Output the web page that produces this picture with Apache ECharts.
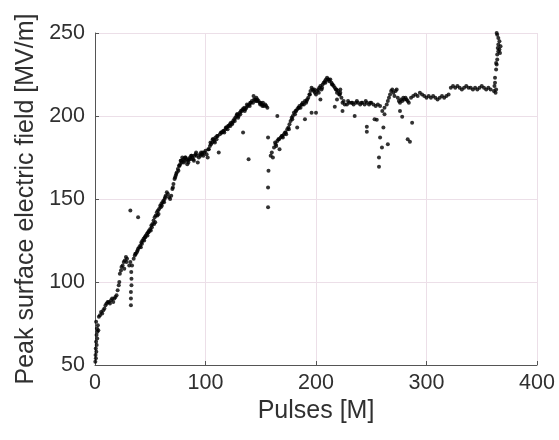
<!DOCTYPE html>
<html>
<head>
<meta charset="utf-8">
<script src="https://cdn.jsdelivr.net/npm/echarts@6/dist/echarts.min.js"></script>
<style>html,body{margin:0;padding:0;background:#fff;}#c{width:559px;height:440px;}</style>
</head>
<body>
<div id="c"></div>
<script>
// Pulses [M]
var pulses = [
0.3,0.8,0.5,1.2,0.7,1.5,1,2,1.4,2.2,1.8,2.6,1,3,
3.5,4.5,5.5,6.5,7.5,8.5,
9.5,10.5,11.5,12.5,13.5,14.5,15.5,16.5,17.5,18.5,19.5,
20.5,21.5,22,22.5,23.5,24,25,26,27,28,29,26.5,28.5,
31,32,32.5,32.5,32.5,33,33,32.8,33.5,
32,39,
35,36,37,38,39,40,41,42,43,44,45,46,47,48,49,50,51,52,53,54,55,56,57,58,59,60,61,62,63,64,65,66,67,68,69,70,
71,72,73,74,75,76,77,78,79,80,81,82,83,84,85,86,87,88,89,90,91,92,93,94,95,96,97,98,99,100,
101,102,103,104,105,106,107,108,109,110,111,112,113,114,115,116,117,118,119,120,121,122,123,124,125,126,127,128,129,130,
131,132,133,134,134.5,135,136,137,138,139,139.5,140,141,142,143,144,145,146,147,148,149,150,151,152,153,154,155,156,
41.5,44.5,47.5,50.5,53.5,56.5,59.5,62.5,72.5,75.5,77.5,80.5,83.5,86.5,89.5,95.5,104.5,108.5,114.5,118.5,122.5,126.5,129.5,133.5,137.5,143.5,146.5,151.5,
36.5,38.5,42.5,45.5,48.5,51.5,54.5,57.5,60.5,63.5,70.5,73.5,76.5,78.5,81.5,84.5,87.5,91.5,97.5,102.5,106.5,110.5,116.5,120.5,124.5,128.5,131.5,135.5,140.5,145.5,149.5,
156.6,157,156.6,156.6,165,
159,160,161,162,163,164,165,166,167,168,169,170,171,172,173,174,175,176,177,178,179,180,181,182,183,184,185,186,187,188,189,190,
191,192,193,194,195,196,197,198,199,200,201,202,203,204,205,206,207,208,209,210,211,212,213,214,215,216,217,218,219,220,221,222,223,224,225,226,
163.5,166.5,169.5,172.5,175.5,178.5,181.5,184.5,187.5,191.5,194.5,198.5,202.5,205.5,208.5,211.5,214.5,218.5,221.5,
183,190,196,200,204,217,224,222,219,
228,230,232,234,236,238,240,242,244,246,248,250,252,254,256,258,
229,233,237,241,245,249,
235,246,246,253,255,258,259.7,257,257,265,261,262,283,285,287,278,276,
260,262,264,265,266,267,268,269,270,271,272,273,274,275,276,277,278,279,280,281,282,283,284,286,288,290,292,294,296,298,
300,302,304,306,308,310,312,314,316,318,320,
322,324,326,328,330,332,334,336,338,340,342,344,346,348,350,352,354,356,358,
361,361.5,362,362,363,362.5,
363,363.5,364,364,365,364.5,365,366,365,364,363.5,363,366,367,366.5
];
// Peak surface electric field [MV/m]
var field = [
52,54,56,58,60,62,64,66,68,70,72,74,76,71,
79,80,82,81,83,84,
86,87,88,88,87,89,90,88,90,91,92,
95,98,100,105,107,109,110,112,113,115,114,108,112,
110,112,86,90,94,98,102,106,110,
143,139,
114,116,117,118,120,121,122,124,125,126,127,128,129,130,131,132,134,135,137,139,140,142,143,144,146,147,148,149,150,152,154,153,151,150,152,156,
159,162,164,166,168,170,171,173,175,174,173,175,174,173,174,175,176,175,174,176,177,176,172,175,177,178,177,176,178,179,
177,175,180,182,183,184,186,185,187,186,188,178,189,190,190,191,190,192,193,192,194,195,196,195,197,198,199,200,201,200,
202,203,203,190,204,205,204,205,206,174,207,206,208,209,208,210,210,211,210,209,208,208,207,208,206,207,206,205,
121,125,128,131,135,140,145,148,163,167,173,172,171,174,173,176,184,184,190,193,194,197,199,204,207,212,209,206,
117,119,123,127,130,133,136,141,146,151,157,165,170,172,175,172,176,178,178,180,186,188,191,194,196,201,201,203,208,209,207,
187,167,157,145,200,
176,178,175,181,184,182,185,186,180,187,188,187,189,190,189,192,193,195,197,199,200,202,201,203,204,205,206,205,207,208,207,209,
208,210,211,213,215,217,216,215,214,213,215,216,217,218,216,219,220,221,222,223,222,221,222,220,219,218,217,216,214,215,213,214,211,208,209,207,
183,186,188,190,192,198,203,205,207,209,213,216,214,217,220,222,219,216,213,
193,198,202,202,210,205.6,203,216,210,
207,208,208,207,208,208,207,208,207,208,207,208,207,206,207,206,
209,208,209,208,209,208,
200,193.5,190.5,198,197.7,187,181,175,169.5,183,193,201,186,184.5,196,199.5,203,
203,205,207,209,211,213,215,216,214,212,215,216,211,209,208,210,209,211,210,211,210,209,208,211,212,213,212,214,213,212,
211,212,211,212,211,210,211,212,211,212,213,
217,218,217,218,217,216,217,218,217,217,216,217,216,217,218,217,216,217,216,
215,218,220,223,216,214,
228,231,234,237,239,241,243,245,247,249,250,232,240,242,238
];
var xTicks = [0,100,200,300,400];
var yTicks = [50,100,150,200,250];

var pts = [];
for (var i = 0; i < pulses.length && i < field.length; i++) pts.push([pulses[i], field[i]]);

var chart = echarts.init(document.getElementById('c'), null, {renderer:'canvas'});
var txt = '#303030';
var ff = '"Liberation Sans", Arial, sans-serif';
chart.setOption({
  animation:false,
  backgroundColor:'#ffffff',
  grid:{left:95, right:22, top:33, bottom:75, containLabel:false},
  xAxis:{
    type:'value', min:xTicks[0], max:xTicks[xTicks.length-1], interval:100,
    name:'Pulses [M]', nameLocation:'middle', nameGap:32,
    nameTextStyle:{fontSize:25, color:txt, fontFamily:ff},
    axisLine:{show:true, onZero:false, lineStyle:{color:'#555', width:1}},
    axisTick:{show:true, inside:true, length:4, lineStyle:{color:'#555'}},
    axisLabel:{fontSize:21.5, color:txt, fontFamily:ff, margin:7},
    splitLine:{show:true, lineStyle:{color:'#ecdfe8', width:1}}
  },
  yAxis:{
    type:'value', min:yTicks[0], max:yTicks[yTicks.length-1], interval:50,
    name:'Peak surface electric field [MV/m]', nameLocation:'middle', nameGap:56,
    nameTextStyle:{fontSize:25, color:txt, fontFamily:ff},
    axisLine:{show:true, onZero:false, lineStyle:{color:'#555', width:1}},
    axisTick:{show:true, inside:true, length:4, lineStyle:{color:'#555'}},
    axisLabel:{fontSize:21.5, color:txt, fontFamily:ff, margin:10},
    splitLine:{show:true, lineStyle:{color:'#ecdfe8', width:1}}
  },
  series:[{
    type:'scatter', data:pts, symbol:'circle', symbolSize:4,
    itemStyle:{color:'#000000'}, silent:true
  }]
});
</script>
</body>
</html>
